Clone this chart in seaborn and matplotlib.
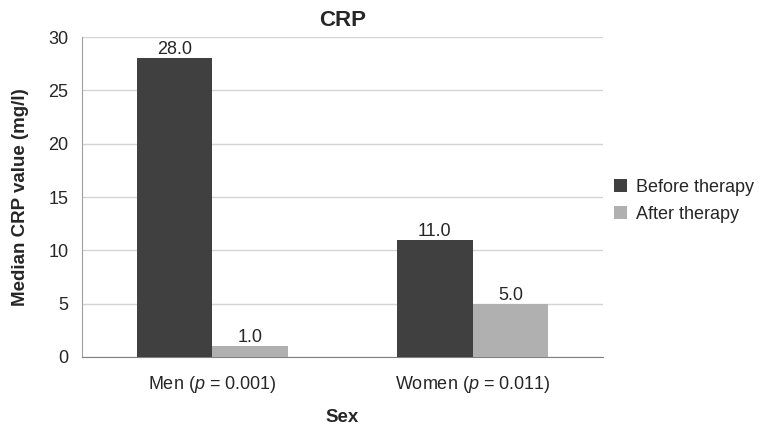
import matplotlib
matplotlib.use("Agg")
import matplotlib.pyplot as plt
import seaborn as sns
import pandas as pd

# data
groups = ["Men ($\\it{p}$ = 0.001)", "Women ($\\it{p}$ = 0.011)"]
before = [28.0, 11.0]
after = [1.0, 5.0]
series = ["Before therapy", "After therapy"]

df = pd.DataFrame({
    "Sex": groups * 2,
    "value": before + after,
    "when": [series[0]] * 2 + [series[1]] * 2,
})

sns.set_style("white")
plt.rcParams["font.family"] = ["Liberation Sans", "DejaVu Sans"]
plt.rcParams["mathtext.fontset"] = "custom"
plt.rcParams["mathtext.rm"] = "Liberation Sans"
plt.rcParams["mathtext.it"] = "Liberation Sans:italic"
txt = "#262626"

fig = plt.figure(figsize=(7.61, 4.26), dpi=100)
ax = fig.add_axes([0.108, 0.162, 0.684, 0.751])

sns.barplot(data=df, x="Sex", y="value", hue="when", hue_order=series,
            palette=["#404040", "#b0b0b0"], width=0.58, saturation=1,
            linewidth=0, ax=ax, zorder=3)

for c in ax.containers:
    ax.bar_label(c, fmt="%.1f", fontsize=13, color=txt, padding=0)

ax.set_ylim(0, 30)
ax.set_yticks([0, 5, 10, 15, 20, 25, 30])
ax.grid(axis="y", color="#d4d4d4", lw=1, zorder=0)
for s in ["top", "right"]:
    ax.spines[s].set_visible(False)
ax.spines["left"].set_color("#a0a0a0")
ax.spines["bottom"].set_color("#808080")
ax.tick_params(axis="both", length=0, labelsize=13, labelcolor=txt, pad=10)
ax.tick_params(axis="x", pad=12)

ax.set_title("CRP", fontsize=16, fontweight="bold", color=txt, pad=8)
ax.set_ylabel("Median CRP value (mg/l)", fontsize=13.5, fontweight="bold", color=txt, labelpad=14)
ax.set_xlabel("Sex", fontsize=13.5, fontweight="bold", color=txt, labelpad=10)

ax.legend(loc="center left", bbox_to_anchor=(1.0, 0.4875), frameon=False,
          fontsize=13, handlelength=0.75, handleheight=0.75, handletextpad=0.5,
          labelspacing=0.55, labelcolor=txt, title=None, borderaxespad=0.2)

fig.savefig("out.png", dpi=100)
